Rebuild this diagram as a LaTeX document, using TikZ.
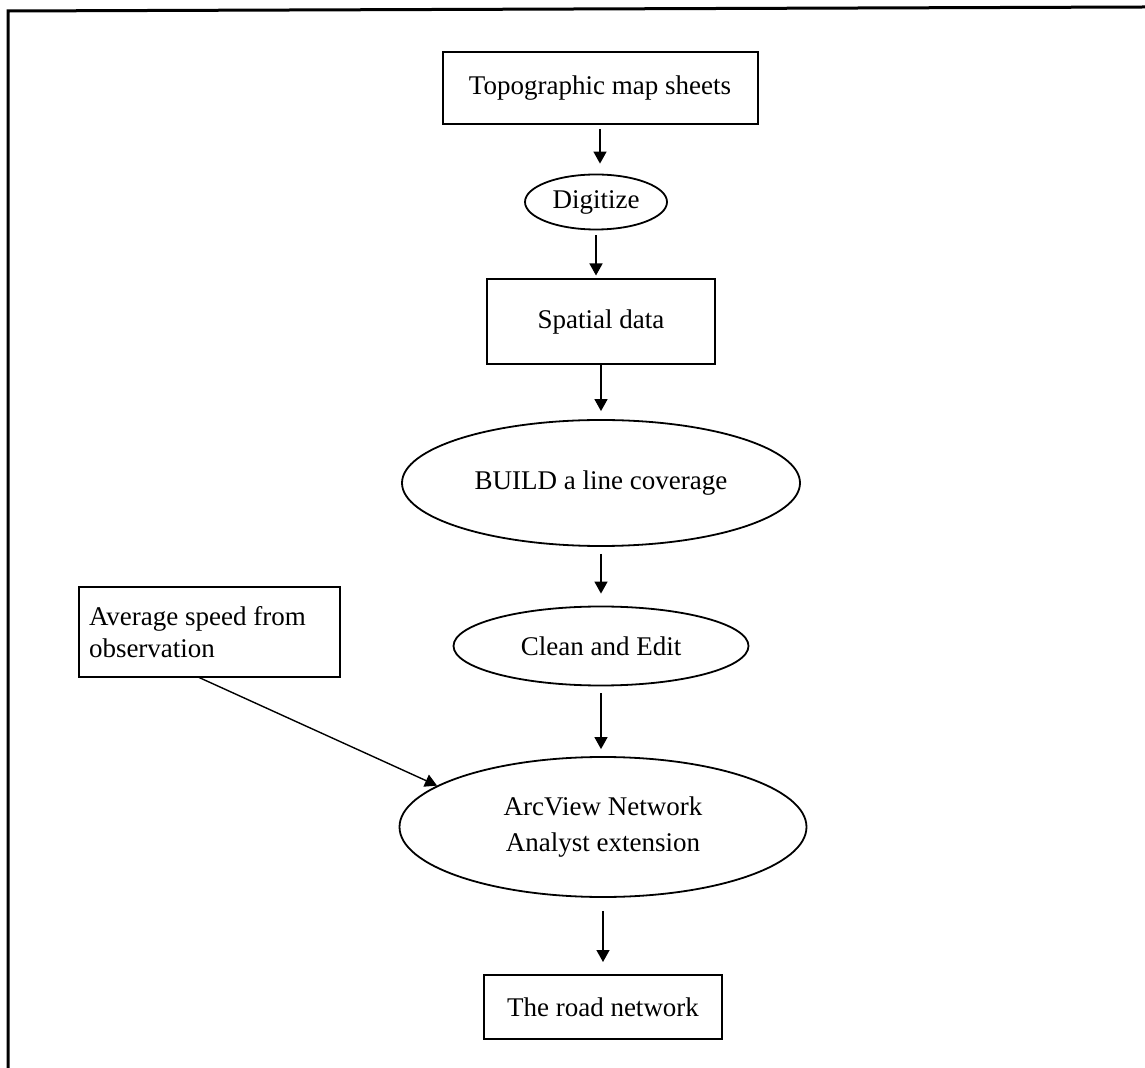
\documentclass[tikz,border=0pt]{standalone}
\usepackage{fontspec}
\setmainfont{Liberation Serif}
\usetikzlibrary{shapes.geometric,arrows.meta}
\begin{document}
\begin{tikzpicture}[x=0.5pt,y=-0.5pt,
  every node/.style={font=\fontsize{13.5}{16}\selectfont, inner sep=0pt},
  boxnode/.style={draw, line width=1pt, rectangle},
  ellnode/.style={draw, line width=0.9pt, ellipse},
  arr/.style={line width=0.7pt, -{Triangle[length=6pt,width=6.5pt]}},
  frameline/.style={line width=1.5pt}
]
\useasboundingbox (0,0) rectangle (1145,1068);
\coordinate (ftr) at (1145,7);
\coordinate (ftl) at (8,11);
\coordinate (fbl) at (8,1068);
\draw[frameline] (ftr) -- (ftl) -- (fbl);

\node[boxnode, minimum width=157.5pt, minimum height=36pt] (topo) at (600,88) {Topographic map sheets};
\node[ellnode, minimum width=71pt, minimum height=27.5pt] (dig) at (596,202) {Digitize};
\node[boxnode, minimum width=114pt, minimum height=42.5pt] (spat) at (601,322) {Spatial data};
\node[ellnode, minimum width=199pt, minimum height=63pt] (build) at (601,483) {BUILD a line coverage};
\node[ellnode, minimum width=147.5pt, minimum height=39.5pt] (clean) at (601,646) {Clean and Edit};
\node[ellnode, minimum width=203.5pt, minimum height=70pt, align=center,
      font=\fontsize{13.5}{18}\selectfont] (arc) at (603,827) {ArcView Network\\Analyst extension};
\node[boxnode, minimum width=119pt, minimum height=32pt] (road) at (603,1007) {The road network};
\node[boxnode, minimum width=130.5pt, minimum height=45pt, text width=120.5pt, align=flush left,
      inner xsep=5pt, font=\fontsize{13.5}{16}\selectfont] (avg) at (209.5,632) {Average speed from\\observation};

\draw[arr, shorten <=2pt, shorten >=5pt] (topo.south) -- (topo.south |- dig.north);
\draw[arr, shorten <=2.5pt, shorten >=1.5pt] (dig.south) -- (dig.south |- spat.north);
\draw[arr, shorten >=4pt] (spat.south) -- (spat.south |- build.north);
\draw[arr, shorten <=3.5pt, shorten >=6pt] (build.south) -- (build.south |- clean.north);
\draw[arr, shorten <=3.5pt, shorten >=3.5pt] (clean.south) -- (clean.south |- arc.north);
\draw[arr, shorten <=6.5pt, shorten >=6pt] (arc.south) -- (arc.south |- road.north);
\coordinate (avgout) at (198,677);
\draw[arr] (avgout) -- (arc.166);
\end{tikzpicture}
\end{document}
